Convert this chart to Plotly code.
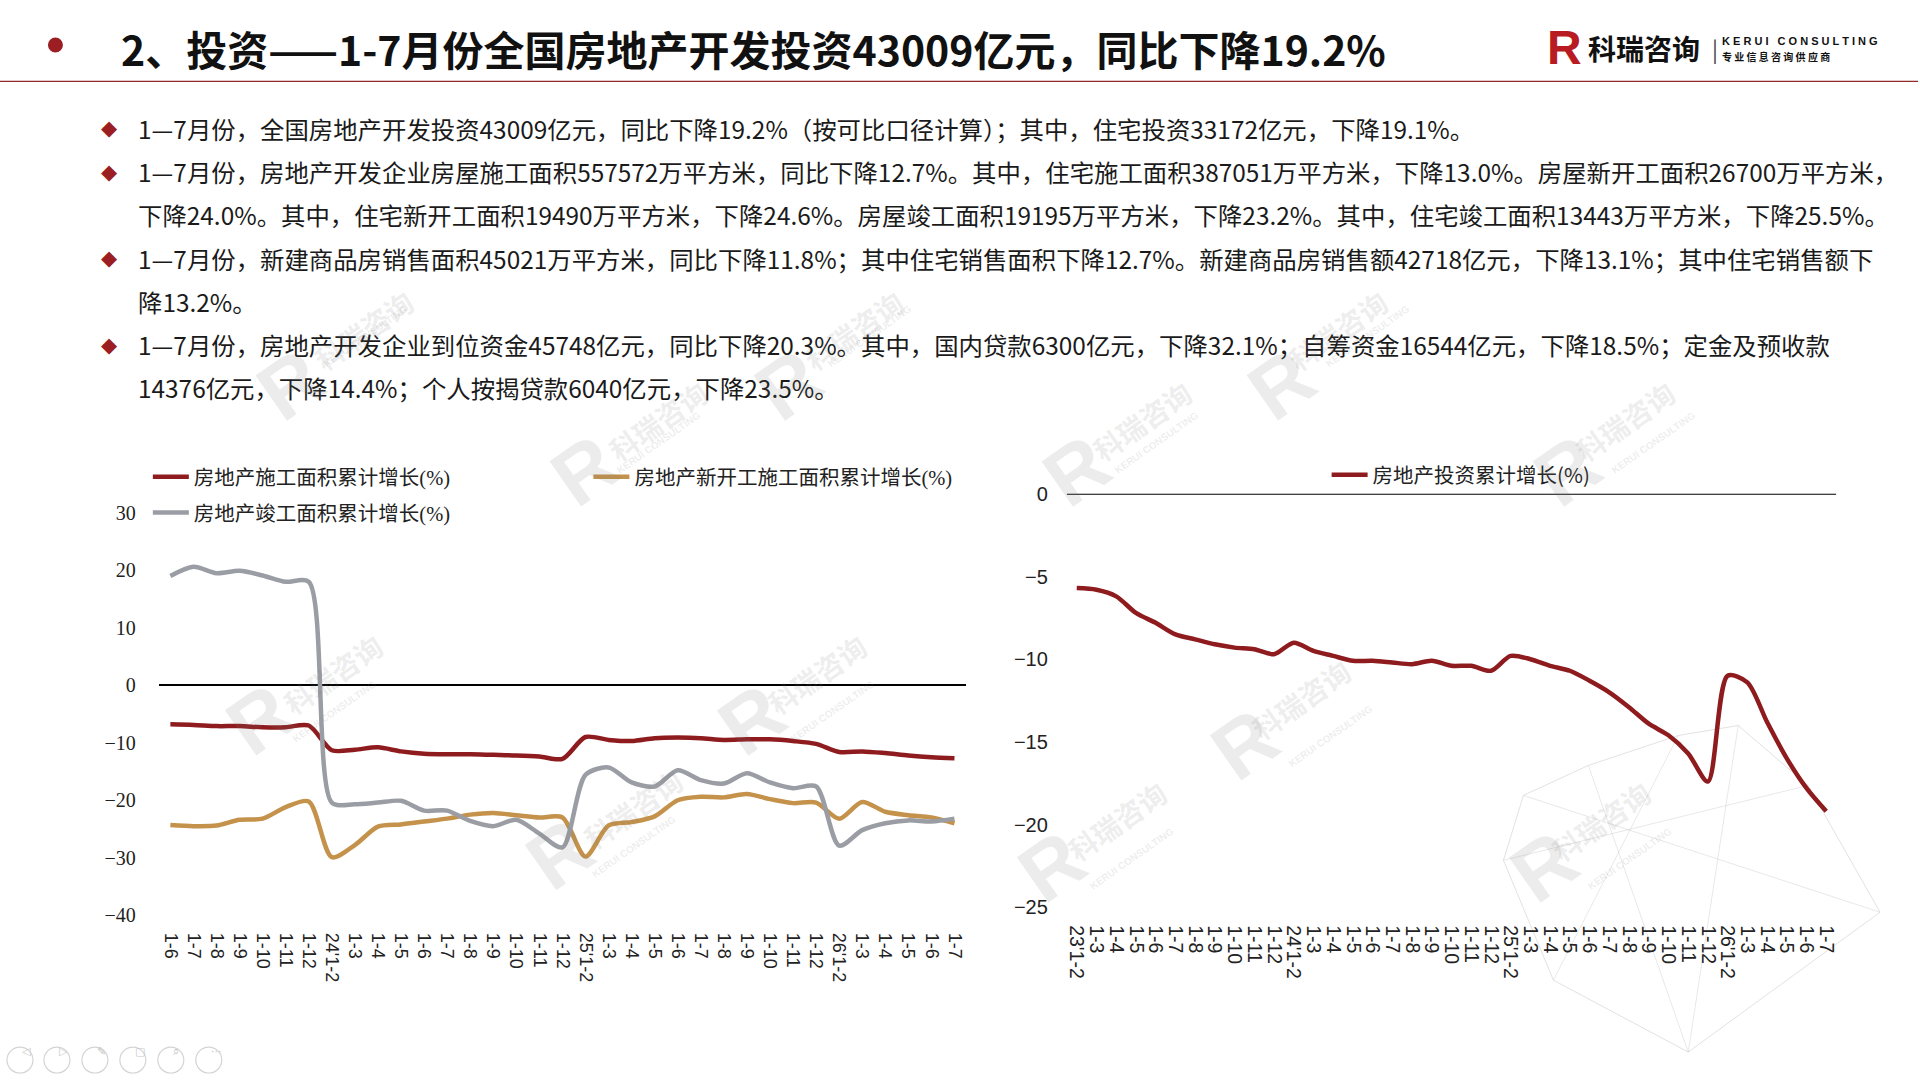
import plotly.graph_objects as go

# ---- data ----
left_labels = ["1-6", "1-7", "1-8", "1-9", "1-10", "1-11", "1-12",
               "24'1-2", "1-3", "1-4", "1-5", "1-6", "1-7", "1-8", "1-9", "1-10", "1-11", "1-12",
               "25'1-2", "1-3", "1-4", "1-5", "1-6", "1-7", "1-8", "1-9", "1-10", "1-11", "1-12",
               "26'1-2", "1-3", "1-4", "1-5", "1-6", "1-7"]

construction = [-6.8, -6.9, -7.1, -7.1, -7.3, -7.3, -7.0,
                -11.3, -11.2, -10.8, -11.5, -11.9, -12.0, -12.0, -12.1, -12.2, -12.4, -12.8,
                -9.0, -9.5, -9.7, -9.2, -9.1, -9.2, -9.5, -9.4, -9.4, -9.7, -10.2,
                -11.6, -11.5, -11.8, -12.2, -12.5, -12.7]

new_starts = [-24.3, -24.5, -24.4, -23.4, -23.2, -21.2, -20.2,
              -29.9, -27.8, -24.6, -24.2, -23.7, -23.2, -22.5, -22.2, -22.6, -23.0, -23.0,
              -29.8, -24.4, -23.8, -22.8, -20.0, -19.4, -19.5, -18.9, -19.8, -20.5, -20.4,
              -23.2, -20.3, -22.0, -22.6, -23.0, -24.0]

completed = [19.0, 20.6, 19.5, 19.9, 19.1, 18.0, 18.0,
             -20.4, -20.7, -20.4, -20.1, -21.8, -21.8, -23.6, -24.5, -23.4, -25.8, -28.2,
             -15.6, -14.3, -16.9, -17.6, -14.8, -16.5, -17.1, -15.3, -16.9, -17.9, -17.6,
             -27.9, -25.2, -24.0, -23.5, -23.7, -23.2]

right_labels = ["23'1-2", "1-3", "1-4", "1-5", "1-6", "1-7", "1-8", "1-9", "1-10", "1-11", "1-12",
                "24'1-2", "1-3", "1-4", "1-5", "1-6", "1-7", "1-8", "1-9", "1-10", "1-11", "1-12",
                "25'1-2", "1-3", "1-4", "1-5", "1-6", "1-7", "1-8", "1-9", "1-10", "1-11", "1-12",
                "26'1-2", "1-3", "1-4", "1-5", "1-6", "1-7"]

investment = [-5.7, -5.8, -6.2, -7.2, -7.8, -8.5, -8.8, -9.1, -9.3, -9.4, -9.7,
              -9.0, -9.5, -9.8, -10.1, -10.1, -10.2, -10.3, -10.1, -10.4, -10.4, -10.7,
              -9.8, -10.0, -10.4, -10.7, -11.3, -12.0, -12.9, -13.9, -14.6, -15.7, -17.4,
              -11.0, -11.4, -13.8, -16.0, -17.8, -19.2]

title_text = "2、投资——1-7月份全国房地产开发投资43009亿元，同比下降19.2%"
bullet_lines = [
    (True, "1—7月份，全国房地产开发投资43009亿元，同比下降19.2%（按可比口径计算）；其中，住宅投资33172亿元，下降19.1%。"),
    (True, "1—7月份，房地产开发企业房屋施工面积557572万平方米，同比下降12.7%。其中，住宅施工面积387051万平方米，下降13.0%。房屋新开工面积26700万平方米，"),
    (False, "下降24.0%。其中，住宅新开工面积19490万平方米，下降24.6%。房屋竣工面积19195万平方米，下降23.2%。其中，住宅竣工面积13443万平方米，下降25.5%。"),
    (True, "1—7月份，新建商品房销售面积45021万平方米，同比下降11.8%；其中住宅销售面积下降12.7%。新建商品房销售额42718亿元，下降13.1%；其中住宅销售额下"),
    (False, "降13.2%。"),
    (True, "1—7月份，房地产开发企业到位资金45748亿元，同比下降20.3%。其中，国内贷款6300亿元，下降32.1%；自筹资金16544亿元，下降18.5%；定金及预收款"),
    (False, "14376亿元，下降14.4%；个人按揭贷款6040亿元，下降23.5%。"),
]

RED = "#8E1B1E"
GOLD = "#C4924B"
GREY = "#9A9DA3"
W, H = 1920, 1080
SANS = "Noto Sans CJK SC, Liberation Sans, sans-serif"
SERIF = "Liberation Serif, Noto Sans CJK SC"


def px(x):
    return x / W


def py(y):
    # calibrated against the rendered page (vertical offset/scale seen in the screenshot)
    return 1 - ((y - 9.5) / 0.981) / H


fig = go.Figure()

# left chart: construction / new starts / completions
fig.add_trace(go.Scatter(x=list(range(len(left_labels))), y=construction, name="房地产施工面积累计增长(%)",
                         mode="lines", line=dict(color=RED, width=4.5, shape="spline", smoothing=0.8),
                         legend="legend", xaxis="x", yaxis="y"))
fig.add_trace(go.Scatter(x=list(range(len(left_labels))), y=new_starts, name="房地产新开工施工面积累计增长(%)",
                         mode="lines", line=dict(color=GOLD, width=4.5, shape="spline", smoothing=0.8),
                         legend="legend2", xaxis="x", yaxis="y"))
fig.add_trace(go.Scatter(x=list(range(len(left_labels))), y=completed, name="房地产竣工面积累计增长(%)",
                         mode="lines", line=dict(color=GREY, width=4.5, shape="spline", smoothing=0.8),
                         legend="legend3", xaxis="x", yaxis="y"))

# right chart: investment
fig.add_trace(go.Scatter(x=list(range(len(right_labels))), y=investment, name="房地产投资累计增长(%)",
                         mode="lines", line=dict(color=RED, width=4.5, shape="spline", smoothing=0.8),
                         legend="legend4", xaxis="x2", yaxis="y2"))

tick_x = dict(tickangle=90, showgrid=False, zeroline=False, showline=False,
              ticks="outside", ticklen=13, tickcolor="rgba(0,0,0,0)")

leg_common = dict(xanchor="left", yanchor="middle", bgcolor="rgba(0,0,0,0)", itemwidth=36,
                  itemclick=False)

fig.update_layout(
    width=W, height=H,
    margin=dict(l=0, r=0, t=0, b=0),
    paper_bgcolor="white", plot_bgcolor="rgba(0,0,0,0)",
    xaxis=dict(domain=[px(159), px(967)], range=[-0.5, len(left_labels) - 0.5],
               tickvals=list(range(len(left_labels))), ticktext=left_labels, anchor="y",
               tickfont=dict(family="Liberation Sans, Arial", size=18, color="#222"), **tick_x),
    yaxis=dict(domain=[py(915), py(512)], range=[-40, 30], dtick=10, showgrid=False,
               zeroline=True, zerolinecolor="black", zerolinewidth=1.5, showline=False,
               ticks="outside", ticklen=18, tickcolor="rgba(0,0,0,0)", anchor="x",
               tickfont=dict(family="Liberation Serif, Times New Roman", size=20, color="#222")),
    xaxis2=dict(domain=[px(1068), px(1838)], range=[-0.5, len(right_labels) - 0.5],
                tickvals=list(range(len(right_labels))), ticktext=right_labels, anchor="y2",
                tickfont=dict(family="Liberation Sans, Arial", size=19.5, color="#222"), **tick_x),
    yaxis2=dict(domain=[py(907), py(493)], range=[-25, 0], dtick=5, showgrid=False,
                zeroline=False, showline=False, anchor="x2",
                ticks="outside", ticklen=14, tickcolor="rgba(0,0,0,0)",
                tickfont=dict(family="Liberation Sans, Arial", size=20, color="#222")),
    legend=dict(x=px(148), y=py(476), font=dict(family=SERIF, size=20.5, color="#222"), **leg_common),
    legend2=dict(x=px(589), y=py(476), font=dict(family=SERIF, size=20.5, color="#222"), **leg_common),
    legend3=dict(x=px(148), y=py(512), font=dict(family=SERIF, size=20.5, color="#222"), **leg_common),
    legend4=dict(x=px(1328), y=py(474), font=dict(family=SANS, size=20.5, color="#222"), **leg_common),
    showlegend=True,
)

shapes = []
# faint low-poly decoration in the lower right corner
poly = [(1525, 795), (1590, 765), (1680, 735), (1740, 725), (1810, 785), (1882, 912),
        (1690, 1052), (1555, 980), (1505, 860), (1525, 795)]
for (ax0, ay0), (ax1, ay1) in zip(poly[:-1], poly[1:]):
    shapes.append(dict(type="line", xref="paper", yref="paper", x0=px(ax0), y0=py(ay0), x1=px(ax1), y1=py(ay1),
                       line=dict(color="rgba(190,190,195,0.45)", width=1), layer="below"))
for (ax0, ay0), (ax1, ay1) in [((1590, 765), (1690, 1052)), ((1680, 735), (1555, 980)),
                               ((1740, 725), (1690, 1052)), ((1505, 860), (1810, 785)),
                               ((1525, 795), (1882, 912))]:
    shapes.append(dict(type="line", xref="paper", yref="paper", x0=px(ax0), y0=py(ay0), x1=px(ax1), y1=py(ay1),
                       line=dict(color="rgba(190,190,195,0.35)", width=1), layer="below"))

# zero line on the right chart (top edge)
shapes.append(dict(type="line", xref="x2 domain", x0=0, x1=1, yref="y2", y0=0, y1=0,
                   line=dict(color="black", width=1.8)))
# header rule and bullet dot
shapes.append(dict(type="line", xref="paper", yref="paper", x0=0, x1=1, y0=py(80), y1=py(80),
                   line=dict(color="#8E2A2A", width=1.2)))
shapes.append(dict(type="circle", xref="paper", yref="paper", x0=px(48), x1=px(63), y0=py(51), y1=py(36),
                   fillcolor="#9B1F22", line=dict(width=0)))

# slide-show control buttons, bottom left
icon_x = [20, 57, 95, 133, 171, 209]
icon_glyph = ["◁", "▷", "✎", "▢", "⌕", "···"]
for cx in icon_x:
    shapes.append(dict(type="circle", xref="paper", yref="paper", x0=px(cx - 13), x1=px(cx + 13),
                       y0=py(1073), y1=py(1047), line=dict(color="#d4d4d4", width=1.2)))
fig.update_layout(shapes=shapes)

ann = []
ann.append(dict(x=px(119), y=py(47), xref="paper", yref="paper", xanchor="left", yanchor="middle",
                text="<b>" + title_text + "</b>", showarrow=False,
                font=dict(family=SANS, size=41, color="#111")))

# logo
ann.append(dict(x=px(1547), y=py(46), xref="paper", yref="paper", xanchor="left", yanchor="middle",
                text="<b>R</b>", showarrow=False, font=dict(family="Liberation Sans", size=48, color="#B81C22")))
ann.append(dict(x=px(1588), y=py(47), xref="paper", yref="paper", xanchor="left", yanchor="middle",
                text="<b>科瑞咨询</b>", showarrow=False, font=dict(family=SANS, size=28, color="#111")))
ann.append(dict(x=px(1712), y=py(47), xref="paper", yref="paper", xanchor="left", yanchor="middle",
                text="|", showarrow=False, font=dict(family=SANS, size=22, color="#444")))
ann.append(dict(x=px(1722), y=py(40), xref="paper", yref="paper", xanchor="left", yanchor="middle",
                text="<b>K E R U I   C O N S U L T I N G</b>", showarrow=False,
                font=dict(family="Liberation Sans", size=11, color="#111")))
ann.append(dict(x=px(1722), y=py(55), xref="paper", yref="paper", xanchor="left", yanchor="middle",
                text="<b>专 业 信 息 咨 询 供 应 商</b>", showarrow=False,
                font=dict(family=SANS, size=10, color="#111")))

# bullet paragraphs
y0 = 127
for i, (has_bullet, line) in enumerate(bullet_lines):
    yy = y0 + i * 43.3
    if has_bullet:
        ann.append(dict(x=px(110), y=py(yy), xref="paper", yref="paper", xanchor="center", yanchor="middle",
                        text="◆", showarrow=False, font=dict(family="DejaVu Sans", size=21, color="#9B1F22")))
    ann.append(dict(x=px(136), y=py(yy), xref="paper", yref="paper", xanchor="left", yanchor="middle",
                    text=line, showarrow=False, font=dict(family=SANS, size=24.4, color="#1a1a1a")))

for cx, g in zip(icon_x, icon_glyph):
    ann.append(dict(x=px(cx), y=py(1060), xref="paper", yref="paper", text=g, showarrow=False,
                    font=dict(family="DejaVu Sans", size=11, color="#c8c8c8")))

# faint watermarks
marks = [(294, 288), (845, 288), (1390, 288), (588, 430), (1133, 430), (1677, 430),
         (263, 735), (808, 735), (1353, 760), (563, 870), (1108, 882), (1653, 882)]
for mx, my in marks:
    ann.append(dict(x=px(mx - 55), y=py(my + 40), xref="paper", yref="paper", text="<b>R</b>",
                    showarrow=False, textangle=-35,
                    font=dict(family="Liberation Sans", size=80, color="rgba(120,120,120,0.14)")))
    ann.append(dict(x=px(mx + 10), y=py(my - 10), xref="paper", yref="paper", text="<b>科瑞咨询</b>",
                    showarrow=False, textangle=-35,
                    font=dict(family=SANS, size=28, color="rgba(120,120,120,0.14)")))
    ann.append(dict(x=px(mx + 25), y=py(my + 12), xref="paper", yref="paper", text="<b>KERUI CONSULTING</b>",
                    showarrow=False, textangle=-35,
                    font=dict(family="Liberation Sans", size=10, color="rgba(120,120,120,0.14)")))

fig.update_layout(annotations=ann)

fig.write_html("out.html", config={"displayModeBar": False},
               post_script="document.body.style.margin='0';document.body.style.overflow='hidden';")
